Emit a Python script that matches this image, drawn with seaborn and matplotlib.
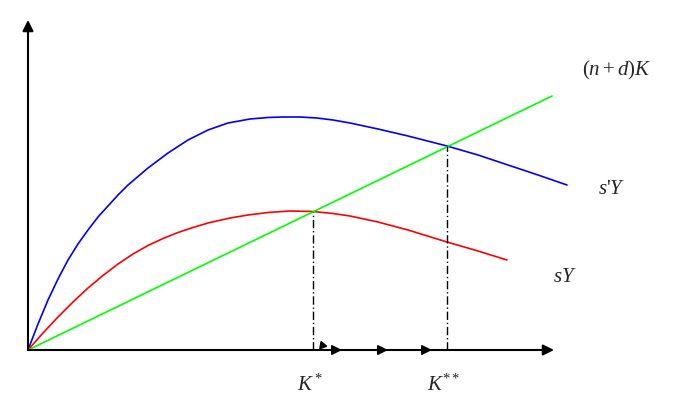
import matplotlib
matplotlib.use("Agg")
import matplotlib.pyplot as plt
import seaborn as sns

# curves (K on x, output/investment on y)
k_blue = [0, 10, 20, 30, 40, 50, 60, 70, 80, 90, 100, 120, 140, 160, 180, 200, 222, 240, 255, 272, 289, 305, 322, 350, 380, 419, 450, 480, 510, 539]
y_blue = [0, 26, 50, 71, 90, 106, 120, 133, 144, 155, 165, 182, 197, 210, 220, 227, 231, 232.5, 233, 233, 232, 230, 227, 221, 214, 204, 195, 185, 175, 165]
k_red = [0, 15, 30, 45, 60, 75, 90, 105, 120, 135, 150, 165, 180, 202, 220, 240, 262, 285, 305, 322, 350, 380, 419, 450, 479]
y_red = [0, 17, 33, 48, 62, 74.5, 86, 96, 104.5, 111.5, 117.5, 122.5, 127, 132, 135, 137.5, 139, 138.5, 136.5, 134, 128, 120, 108, 99, 90]
k_green = [0, 524]
y_green = [0, 254]

# steady states and the points where they meet (n+d)K
k_star = [285, 419]
y_star = [138, 204]
star_labels = [r"$K^*$", r"$K^{**}$"]
arrow_k = [314, 360, 404]

sns.set_style("white")
plt.rcParams["mathtext.fontset"] = "custom"
plt.rcParams["mathtext.rm"] = "Liberation Serif"
plt.rcParams["mathtext.it"] = "Liberation Serif:italic"
plt.rcParams["font.family"] = ["Liberation Serif", "DejaVu Sans"]

fig = plt.figure(figsize=(6.75, 4.13), dpi=100)
ax = fig.add_axes([0, 0, 1, 1])
ax.set_xlim(-28, 647)
ax.set_ylim(-63, 350)
ax.axis("off")

sns.lineplot(x=k_blue, y=y_blue, color="#0000ff", lw=1.2, ax=ax)
sns.lineplot(x=k_red, y=y_red, color="#ff0000", lw=1.2, ax=ax)
sns.lineplot(x=k_green, y=y_green, color="#00ff00", lw=1.2, ax=ax)

# axes with arrow heads
ax.annotate("", xy=(526, 0), xytext=(0, 0),
            arrowprops=dict(arrowstyle="-|>", mutation_scale=16, color="black", lw=1.5, shrinkA=0, shrinkB=0))
ax.annotate("", xy=(0, 330), xytext=(0, 0),
            arrowprops=dict(arrowstyle="-|>", mutation_scale=16, color="black", lw=1.5, shrinkA=0, shrinkB=0))

# dash-dot drop lines
for k, y in zip(k_star, y_star):
    ax.plot([k, k], [0, y], color="black", lw=1, linestyle=(0, (6, 2, 1, 2)))

# convergence arrows on the K axis
for k in arrow_k:
    ax.annotate("", xy=(k, 0), xytext=(k - 25, 0),
                arrowprops=dict(arrowstyle="-|>", mutation_scale=15, color="black", lw=1.2, shrinkA=0, shrinkB=0))
ax.plot([294], [5], marker=(3, 0, 20), color="black", markersize=6)

for k, lab in zip(k_star, star_labels):
    ax.text(k - 3, -35, lab, fontsize=15, ha="center", va="center")

ax.text(554, 280, r"$(n+d)K$", fontsize=15, ha="left", va="center")
ax.text(570, 160, r"$s$'$Y$", fontsize=15, ha="left", va="center")
ax.text(525, 72, r"$sY$", fontsize=15, ha="left", va="center")

plt.savefig("out.png", dpi=100)
